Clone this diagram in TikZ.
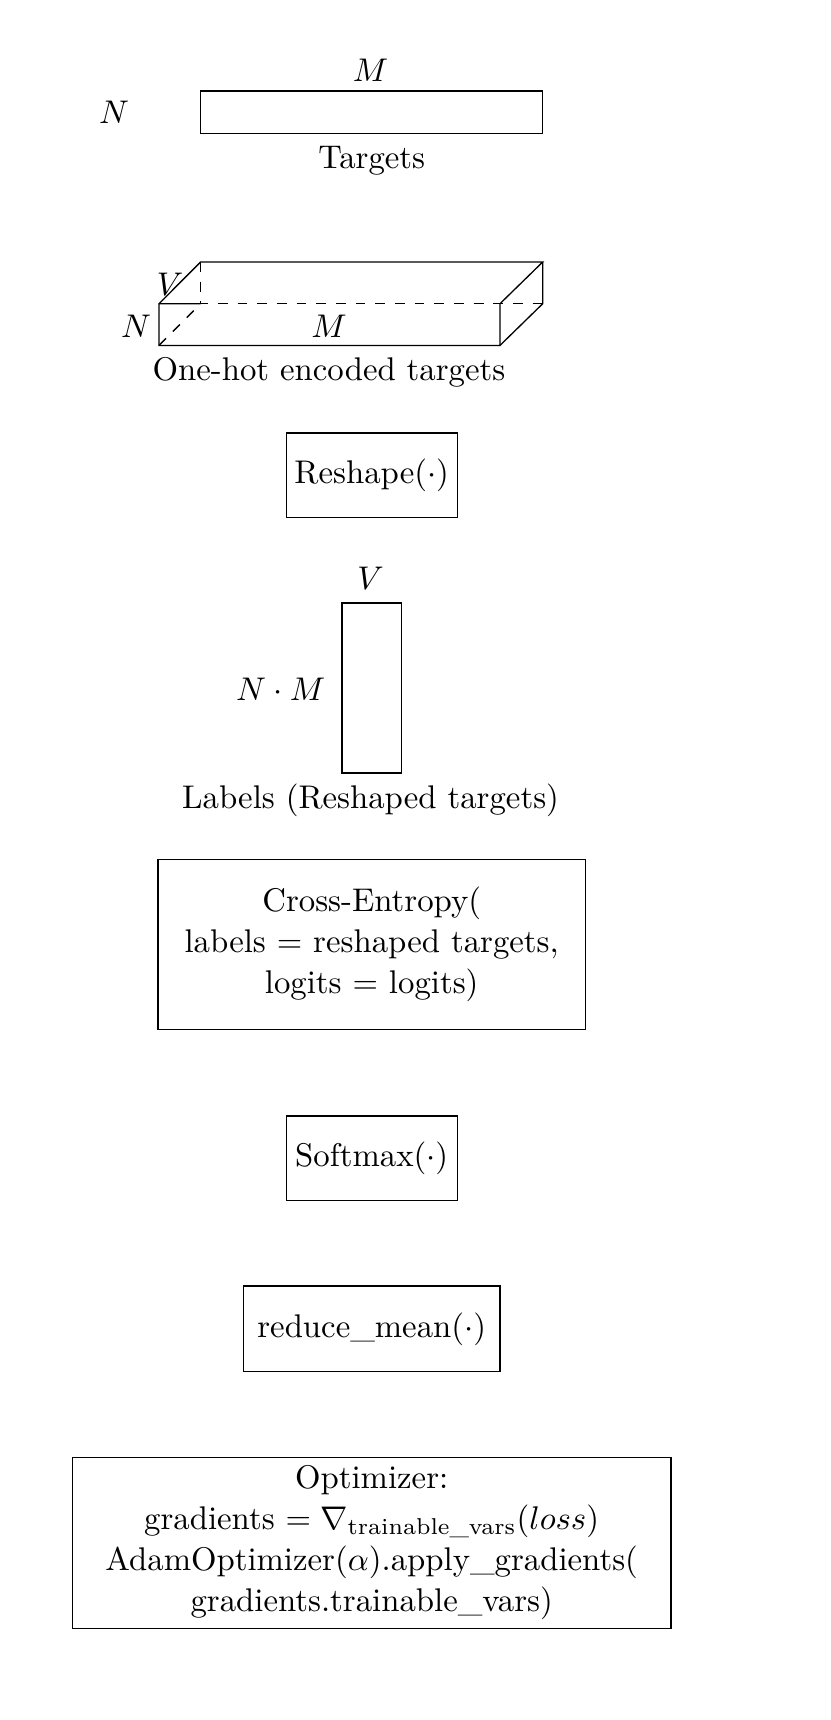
\documentclass[tikz,border=0pt]{standalone}
\usepackage{amsmath}
\begin{document}
\begin{tikzpicture}[x=0.305pt,y=-0.305pt,
  opbox/.style={draw,align=center,inner sep=0pt,anchor=center,font=\fontsize{10}{12.45}\selectfont},
  lbl/.style={inner sep=0pt,anchor=center},
  tensor/.style={draw,inner sep=0pt,anchor=center}]
\useasboundingbox (0,0) rectangle (830,1720);
% Targets
\node[tensor,minimum width={342.1*0.305pt},minimum height={42.9*0.305pt}] (trg) at (371.6,112.3) {};
\node[lbl] (trgM) at (370.6,70) {$M$};
\node[lbl] (trgN) at (114,112) {$N$};
\node[lbl] (trgT) at (371.7,160.5) {Targets};
% One-hot cube
\coordinate (fbl) at (159,345.4);
\coordinate (fbr) at (500,345.4);
\coordinate (ftl) at (159,303.7);
\coordinate (ftr) at (500,303.7);
\coordinate (bbl) at (200.6,303.7);
\coordinate (bbr) at (542.7,303.7);
\coordinate (btl) at (200.6,262);
\coordinate (btr) at (542.7,262);
\draw (bbl) -- (ftl) -- (fbl) -- (fbr) -- (ftr) -- (btr) -- (btl) -- (ftl);
\draw (fbr) -- (bbr) -- (btr);
\draw[dashed] (btl) -- (bbl) -- (bbr);
\draw[dashed] (fbl) -- (bbl);
\node[lbl] (ohV) at (170,284) {$V$};
\node[lbl] (ohN) at (136,326.5) {$N$};
\node[lbl] (ohM) at (329,326.5) {$M$};
\node[lbl] (ohT) at (329,372.5) {One-hot encoded targets};
% Reshape
\node[opbox,minimum width={171*0.305pt},minimum height={84.5*0.305pt}] (resh) at (371.7,475.3) {Reshape($\cdot$)};
% Labels tensor
\node[tensor,minimum width={59.3*0.305pt},minimum height={170*0.305pt}] (lab) at (371.7,688) {};
\node[lbl] (labV) at (370.6,578) {$V$};
\node[lbl] (labNM) at (280.7,689.6) {$N\cdot M$};
\node[lbl] (labT) at (370.6,800) {Labels (Reshaped targets)};
% Cross entropy
\node[opbox,minimum width={427.6*0.305pt},minimum height={170*0.305pt}] (ce) at (371.7,944.6) {Cross-Entropy(\\labels $=$ reshaped targets,\\logits $=$ logits)};
% Softmax
\node[opbox,minimum width={171*0.305pt},minimum height={84.6*0.305pt}] (sm) at (371.7,1158.4) {Softmax($\cdot$)};
% reduce_mean
\node[opbox,minimum width={256.6*0.305pt},minimum height={85.6*0.305pt}] (rm) at (371.7,1328.8) {reduce\_mean($\cdot$)};
% Optimizer
\node[opbox,minimum width={598.6*0.305pt},minimum height={171*0.305pt}] (opt) at (371.7,1542.7) {Optimizer:\\gradients $=\nabla_{\text{trainable\_vars}}(loss)$\\AdamOptimizer($\alpha$).apply\_gradients(\\gradients.trainable\_vars)};
\end{tikzpicture}
\end{document}
